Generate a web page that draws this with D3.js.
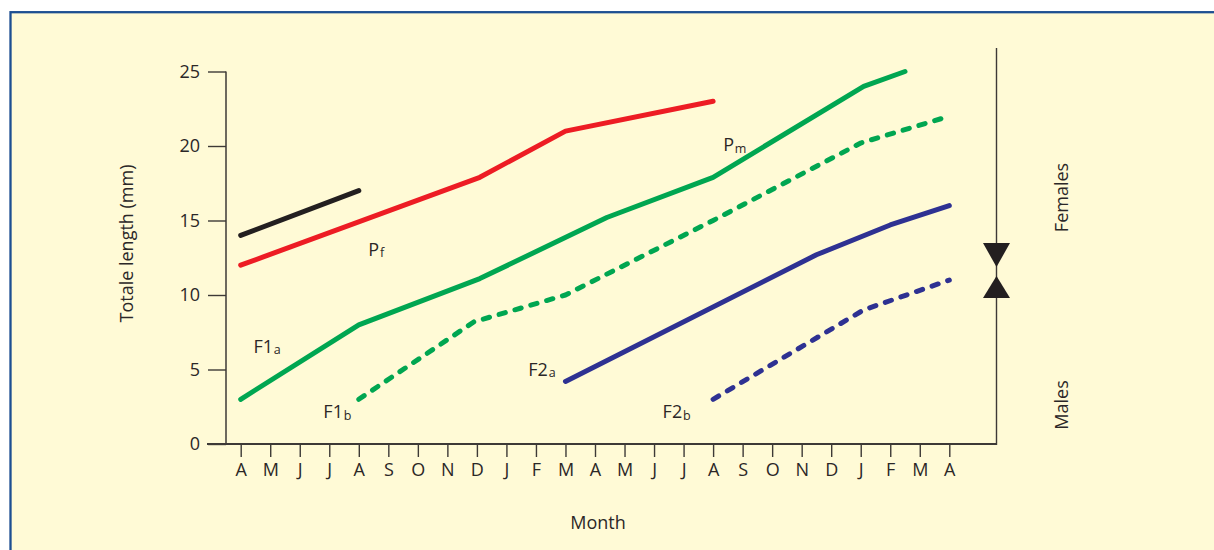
<!DOCTYPE html>
<html>
<head>
<meta charset="utf-8">
<script src="https://cdn.jsdelivr.net/npm/d3@7"></script>
<style>
  html, body { margin: 0; padding: 0; background: #ffffff; }
  svg { display: block; }
  text { font-family: "Open Sans", "Noto Sans", sans-serif; fill: #2b2727; }
</style>
</head>
<body>
<svg id="chart" width="1214" height="550"></svg>
<script>
// Month ticks: April of year one through April of year three
const monthLabels = ["A","M","J","J","A","S","O","N","D","J","F","M",
                     "A","M","J","J","A","S","O","N","D","J","F","M","A"];
const lengthTicks = [0, 5, 10, 15, 20, 25];

// Growth curves: [month index, total length in mm]
const parentBlack = [[0, 14], [4, 17]];
const parentFemale = [[0, 12], [8.1, 17.9], [11, 21], [16, 23]];
const cohortF1a = [[0, 3], [4, 8], [8.1, 11.1], [12.4, 15.2], [16, 17.9], [21.1, 24], [22.5, 25]];
const cohortF1b = [[4, 3], [7.9, 8.2], [11, 10], [16, 15], [21, 20.2], [24, 22]];
const cohortF2a = [[11, 4.2], [19.5, 12.7], [22, 14.7], [24, 16]];
const cohortF2b = [[16, 3], [21.1, 9], [24, 11]];

// Curve labels: main text, subscript, anchor in (month index, length) space
const curveLabels = [
  { main: "P",  sub: "f", at: [4.32, 12.63] },
  { main: "P",  sub: "m", at: [16.34, 19.64] },
  { main: "F1", sub: "a", at: [0.43, 6.14] },
  { main: "F1", sub: "b", at: [2.80, 1.73] },
  { main: "F2", sub: "a", at: [9.74, 4.59] },
  { main: "F2", sub: "b", at: [14.29, 1.73] }
];

const svg = d3.select("#chart");

// Panel with blue frame
svg.append("rect")
  .attr("x", 10.5).attr("y", 12.2)
  .attr("width", 1260).attr("height", 600)
  .attr("fill", "#fffad6")
  .attr("stroke", "#1d4f91")
  .attr("stroke-width", 2.3);

const x = d3.scaleLinear().domain([0, 24]).range([240.7, 949.3]);
const y = d3.scaleLinear().domain([0, 25]).range([444, 71.5]);

const axisColor = "#3d3936";
const xAxisLeft = 207, xAxisRight = 996.5, yAxisX = 226;

// Y axis
const gy = svg.append("g")
  .attr("transform", `translate(${yAxisX},0)`)
  .call(d3.axisLeft(y).tickValues(lengthTicks).tickSize(18).tickPadding(8));
gy.select(".domain").remove();
gy.selectAll(".tick line").attr("stroke", axisColor).attr("stroke-width", 1.4);
gy.selectAll(".tick text")
  .attr("font-family", "'Open Sans', sans-serif")
  .attr("font-size", 18).attr("fill", "#2b2727");

// X axis
const gx = svg.append("g")
  .attr("transform", `translate(0,${y(0)})`)
  .call(d3.axisBottom(x).tickValues(d3.range(monthLabels.length))
    .tickFormat(i => monthLabels[i]).tickSize(13).tickPadding(6));
gx.select(".domain").remove();
gx.selectAll(".tick line").attr("stroke", axisColor).attr("stroke-width", 1.4);
gx.selectAll(".tick text")
  .attr("font-family", "'Open Sans', sans-serif")
  .attr("font-size", 18).attr("fill", "#2b2727");

// Axis lines
svg.append("line")
  .attr("x1", yAxisX).attr("x2", yAxisX)
  .attr("y1", y(25)).attr("y2", y(0))
  .attr("stroke", axisColor).attr("stroke-width", 1.5);
svg.append("line")
  .attr("x1", xAxisLeft).attr("x2", xAxisRight)
  .attr("y1", y(0)).attr("y2", y(0))
  .attr("stroke", axisColor).attr("stroke-width", 1.8);

// Sex divider on the right: vertical rule with opposing arrowheads
svg.append("line")
  .attr("x1", xAxisRight).attr("x2", xAxisRight)
  .attr("y1", 48).attr("y2", y(0) + 0.9)
  .attr("stroke", axisColor).attr("stroke-width", 1.4);
const triHalf = 13.5;
svg.append("path")
  .attr("d", `M${xAxisRight - triHalf},243 L${xAxisRight + triHalf},243 L${xAxisRight},267 Z`)
  .attr("fill", "#231f20");
svg.append("path")
  .attr("d", `M${xAxisRight - triHalf},298 L${xAxisRight + triHalf},298 L${xAxisRight},276 Z`)
  .attr("fill", "#231f20");

// Growth lines
const line = d3.line().x(d => x(d[0])).y(d => y(d[1]));
const curves = [
  { data: parentBlack,  color: "#231f20", dashed: false },
  { data: parentFemale, color: "#ed1c24", dashed: false },
  { data: cohortF1a,    color: "#00a651", dashed: false },
  { data: cohortF1b,    color: "#00a651", dashed: true },
  { data: cohortF2a,    color: "#2e3192", dashed: false },
  { data: cohortF2b,    color: "#2e3192", dashed: true }
];
svg.append("g").selectAll("path")
  .data(curves)
  .join("path")
  .attr("d", d => line(d.data))
  .attr("fill", "none")
  .attr("stroke", d => d.color)
  .attr("stroke-width", 5)
  .attr("stroke-linecap", "round")
  .attr("stroke-linejoin", "round")
  .attr("stroke-dasharray", d => d.dashed ? "6.5,10" : null);

// Curve labels with subscripts
const lab = svg.append("g").selectAll("text")
  .data(curveLabels)
  .join("text")
  .attr("x", d => x(d.at[0]))
  .attr("y", d => y(d.at[1]))
  .attr("font-size", 18);
lab.append("tspan").text(d => d.main);
lab.append("tspan")
  .attr("font-size", 12.5)
  .attr("dx", 0.8)
  .attr("dy", 1.5)
  .text(d => d.sub);

// Axis titles
svg.append("text")
  .attr("transform", "translate(133,243.5) rotate(-90)")
  .attr("text-anchor", "middle")
  .attr("font-size", 18)
  .text("Totale length (mm)");
svg.append("text")
  .attr("x", 598).attr("y", 528.5)
  .attr("text-anchor", "middle")
  .attr("font-size", 18)
  .text("Month");

// Side labels
svg.append("text")
  .attr("transform", "translate(1068,197.5) rotate(-90)")
  .attr("text-anchor", "middle")
  .attr("font-size", 18)
  .text("Females");
svg.append("text")
  .attr("transform", "translate(1068,405) rotate(-90)")
  .attr("text-anchor", "middle")
  .attr("font-size", 18)
  .text("Males");
</script>
</body>
</html>
